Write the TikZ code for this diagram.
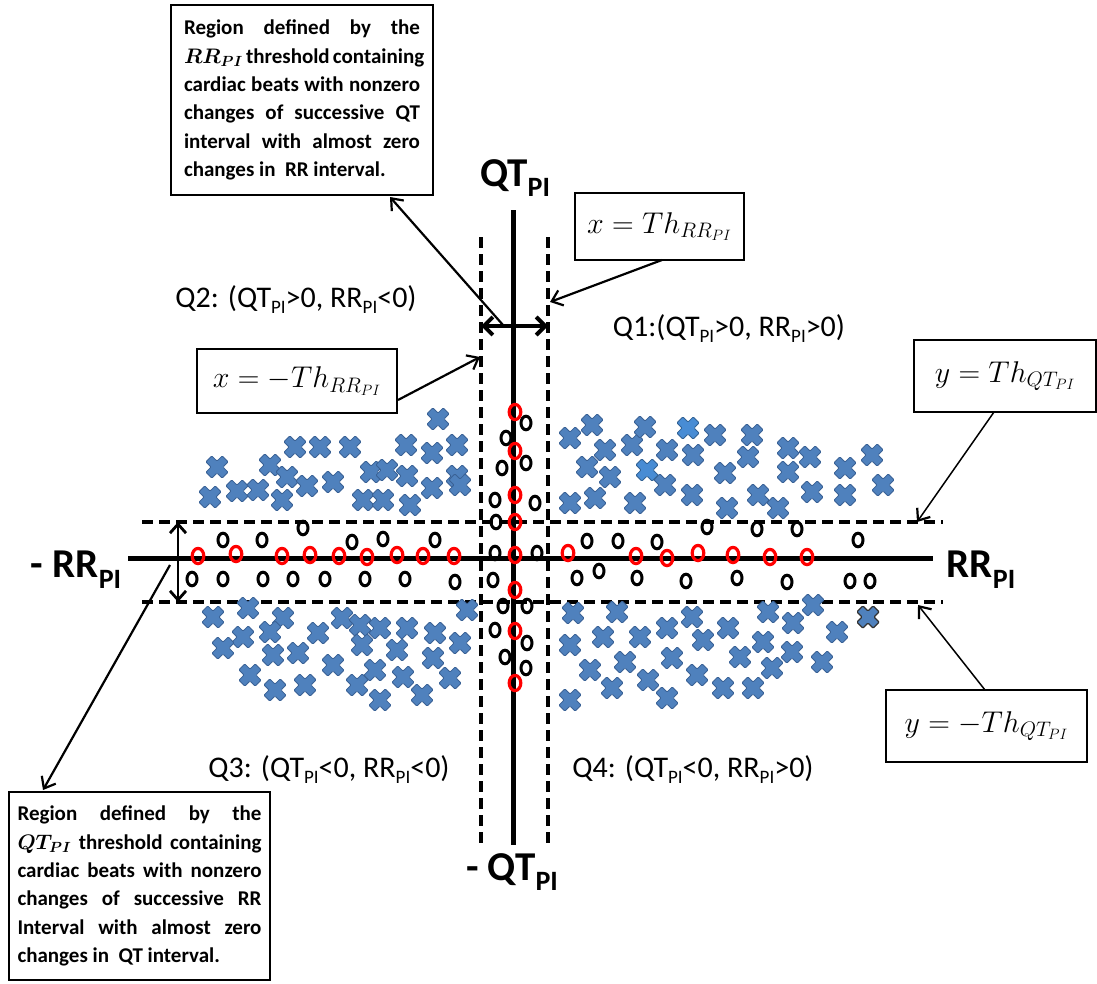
\RequirePackage{fix-cm}
\documentclass[tikz,border=0pt]{standalone}
\usepackage{fontspec}
\setmainfont{Carlito}
\usepackage{amsmath}
\usetikzlibrary{arrows.meta}
\definecolor{xblue}{RGB}{79,129,189}
\definecolor{xedge}{RGB}{58,98,150}
\definecolor{xlight}{RGB}{72,140,212}
\newcommand\psub[2]{\raisebox{-#2}{\fontsize{#1}{#1}\selectfont PI}}
\tikzset{
  xm/.pic={\filldraw[fill=xblue,draw=xedge,line width=0.8pt,rotate=45,rounded corners=1pt]
    (-4.2,-11.5)--(4.2,-11.5)--(4.2,-4.2)--(11.5,-4.2)--(11.5,4.2)--(4.2,4.2)--(4.2,11.5)--(-4.2,11.5)--(-4.2,4.2)--(-11.5,4.2)--(-11.5,-4.2)--(-4.2,-4.2)--cycle;},
  xml/.pic={\filldraw[fill=xlight,draw=xlight!70!black,line width=0.8pt,rotate=45,rounded corners=1pt]
    (-4.2,-11.5)--(4.2,-11.5)--(4.2,-4.2)--(11.5,-4.2)--(11.5,4.2)--(4.2,4.2)--(4.2,11.5)--(-4.2,11.5)--(-4.2,4.2)--(-11.5,4.2)--(-11.5,-4.2)--(-4.2,-4.2)--cycle;},
  xmd/.pic={\filldraw[fill=xblue,draw=black!80,line width=1.2pt,rotate=45,rounded corners=1pt]
    (-4.2,-11.5)--(4.2,-11.5)--(4.2,-4.2)--(11.5,-4.2)--(11.5,4.2)--(4.2,4.2)--(4.2,11.5)--(-4.2,11.5)--(-4.2,4.2)--(-11.5,4.2)--(-11.5,-4.2)--(-4.2,-4.2)--cycle;},
  axisline/.style={line width=5pt},
  dashline/.style={line width=3.8pt, dash pattern=on 11pt off 6pt},
  blkc/.style={draw=black, line width=3pt},
  redc/.style={draw=red, line width=3.2pt},
  tbox/.style={draw, line width=2.8pt, inner sep=0pt, fill=white},
  mbox/.style={draw, line width=1.8pt, inner sep=0pt, fill=white, font=\fontsize{30}{36}\selectfont},
  qlab/.style={anchor=base, inner sep=0pt, font=\fontsize{30}{36}\selectfont},
  axlab/.style={anchor=base, inner sep=0pt, font=\fontsize{41}{48}\selectfont\bfseries},
  ptr/.style={line width=2.2pt, -{Straight Barb[length=10pt,width=16pt,line width=2.2pt]}},
  dblarrow/.style={line width=4pt, {Straight Barb[length=9pt,width=18pt,line width=4pt]}-{Straight Barb[length=9pt,width=18pt,line width=4pt]}}
}
\begin{document}
\begin{tikzpicture}[x=1pt,y=-1pt]
\useasboundingbox[fill=white] (0,0) rectangle (1097,983);

% axes
\coordinate (vT) at (513,210); \coordinate (vB) at (513,845);
\coordinate (hL) at (128,558); \coordinate (hR) at (933,558);
\draw[axisline] (vT) -- (vB);
\draw[axisline] (hL) -- (hR);
% threshold lines
\coordinate (dl1) at (481,237); \coordinate (dl2) at (481,845);
\coordinate (dr1) at (548,237); \coordinate (dr2) at (548,845);
\coordinate (dt1) at (142,522); \coordinate (dt2) at (943,522);
\coordinate (db1) at (142,602); \coordinate (db2) at (943,602);
\draw[dashline] (dl1) -- (dl2);
\draw[dashline] (dr1) -- (dr2);
\draw[dashline] (dt1) -- (dt2);
\draw[dashline] (db1) -- (db2);
% double arrows
\coordinate (ha1) at (481,326); \coordinate (ha2) at (548,326);
\draw[dblarrow] (ha1) -- (ha2);
\coordinate (va1) at (178,522); \coordinate (va2) at (178,602);
\draw[line width=2.8pt, {Straight Barb[length=9pt,width=16pt,line width=2.8pt]}-{Straight Barb[length=9pt,width=16pt,line width=2.8pt]}] (va1) -- (va2);

% crosses
\foreach \x/\y in {438/419,295/447,320/447,350/447,406/445,457/445,432/453,217/467,270/465,287/477,371/472,387/470,407/476,457/476,237/491,258/490,307/486,333/482,432/488,210/497,282/500,363/500,383/500,410/505,460/485}
  \pic at (\x,\y) {xm};
\foreach \x/\y in {570/438,592/425,605/450,587/467,610/477,632/445,645/427,667/450,665/485,693/455,715/435,725/473,752/435,748/457,788/448,810/457,788/472,845/468,872/455,883/485,570/503,595/498,635/503,692/495,727/508,758/495,778/508,812/492,845/495}
  \pic at (\x,\y) {xm};
\pic at (647,470) {xml};
\pic at (688,428) {xml};
\foreach \x/\y in {213/617,248/608,283/618,270/632,243/637,223/648,318/633,342/618,360/625,380/628,407/628,435/633,460/643,467/610,362/645,397/650,433/658,273/655,298/653,333/665,250/675,357/685,375/670,403/677,450/678,275/690,305/685,380/700,422/695}
  \pic at (\x,\y) {xm};
\foreach \x/\y in {573/613,617/612,692/617,768/612,813/605,570/645,603/637,640/637,667/628,703/640,728/628,763/642,793/623,837/632,590/670,625/662,672/658,740/657,772/668,792/652,822/662,612/688,648/680,697/675,723/688,753/688,570/700,667/698}
  \pic at (\x,\y) {xm};
\pic at (868,617) {xmd};

% black circles
\foreach \x/\y in {223/540,262/540,303/528,352/542,383/539,435/540,192/579,223/579,263/579,293/579,325/579,365/579,405/579,455/582,
  587/541,618/541,657/542,707/527,757/529,797/529,858/540,577/578,599/571,637/578,686/581,737/578,787/582,850/581,870/581,
  526/423,506/438,526/463,502/468,495/500,535/503,496/522,495/553,537/553,493/580,503/606,527/606,495/630,527/643,505/657,526/668}
  \draw[blkc] (\x,\y) ellipse [x radius=5, y radius=6.8];
% red circles
\foreach \x/\y in {198/556,236/554,282/556,310/555,339/556,367/557,397/555,423/556,454/556,
  568/553,636/556,667/558,698/553,733/555,770/557,807/557,
  515/412,515/451,515/495,515/522,515/555,515/590,515/631,515/683}
  \draw[redc] (\x,\y) ellipse [x radius=5.8, y radius=7.6];

% axis labels
\node[axlab] (qtTop) at (515,186) {QT\psub{28pt}{10pt}};
\node[axlab] (qtBot) at (512,880) {- QT\psub{28pt}{10pt}};
\node[axlab] (rrL) at (76,577) {- RR\psub{28pt}{11pt}};
\node[axlab] (rrR) at (981,577) {RR\psub{28pt}{11pt}};

% quadrant labels
\node[qlab] (q1) at (729,336) {Q1:(QT\psub{19pt}{6pt}>0, RR\psub{19pt}{6pt}>0)};
\node[qlab] (q2) at (296,307) {Q2: (QT\psub{19pt}{6pt}>0, RR\psub{19pt}{6pt}<0)};
\node[qlab] (q3) at (329,777) {Q3: (QT\psub{19pt}{6pt}<0, RR\psub{19pt}{6pt}<0)};
\node[qlab] (q4) at (693,777) {Q4: (QT\psub{19pt}{6pt}<0, RR\psub{19pt}{6pt}>0)};

% threshold boxes
\node[mbox, minimum width=169pt, minimum height=67pt] (thx) at (659.5,226.5) {$x = Th_{RR_{PI}}$};
\node[mbox, minimum width=200pt, minimum height=64pt] (thmx) at (297,381) {$x = -Th_{RR_{PI}}$};
\node[mbox, minimum width=182pt, minimum height=72pt] (thy) at (1005,376) {$y = Th_{QT_{PI}}$};
\node[mbox, minimum width=201pt, minimum height=72pt] (thmy) at (986.5,726) {$y = -Th_{QT_{PI}}$};

% description boxes
\node[tbox, minimum width=262pt, minimum height=190pt] (topbox) at (302,100) {\parbox{236pt}{\fontsize{21}{28.4}\selectfont\bfseries
\makebox[236pt][s]{Region defined by the}\\
\makebox[236pt][s]{{\boldmath$RR_{PI}$} threshold containing}\\
\makebox[236pt][s]{cardiac beats with nonzero}\\
\makebox[236pt][s]{changes of successive QT}\\
\makebox[236pt][s]{interval with almost zero}\\
changes in\ \ RR interval.}};
\node[tbox, minimum width=261pt, minimum height=188pt] (botbox) at (139.5,886) {\parbox{244pt}{\fontsize{21}{28.4}\selectfont\bfseries
\makebox[244pt][s]{Region defined by the}\\
\makebox[244pt][s]{{\boldmath$QT_{PI}$} threshold containing}\\
\makebox[244pt][s]{cardiac beats with nonzero}\\
\makebox[244pt][s]{changes of successive RR}\\
\makebox[244pt][s]{Interval with almost zero}\\
changes in\ \ QT interval.}};

% pointers
\coordinate (p1s) at (503,325); \coordinate (p1e) at (390,197);
\draw[ptr] (p1s) -- (p1e);
\coordinate (p2s) at (662,260); \coordinate (p2e) at (550,302);
\draw[ptr] (p2s) -- (p2e);
\coordinate (p3s) at (398,400); \coordinate (p3e) at (480,357);
\draw[ptr] (p3s) -- (p3e);
\coordinate (p4s) at (994,412); \coordinate (p4e) at (917,522);
\draw[ptr, line width=1.5pt] (p4s) -- (p4e);
\coordinate (p5s) at (985,690); \coordinate (p5e) at (918,605);
\draw[ptr, line width=1.5pt] (p5s) -- (p5e);
\coordinate (p6s) at (170,565); \coordinate (p6e) at (43,790);
\draw[ptr] (p6s) -- (p6e);
\end{tikzpicture}
\end{document}
